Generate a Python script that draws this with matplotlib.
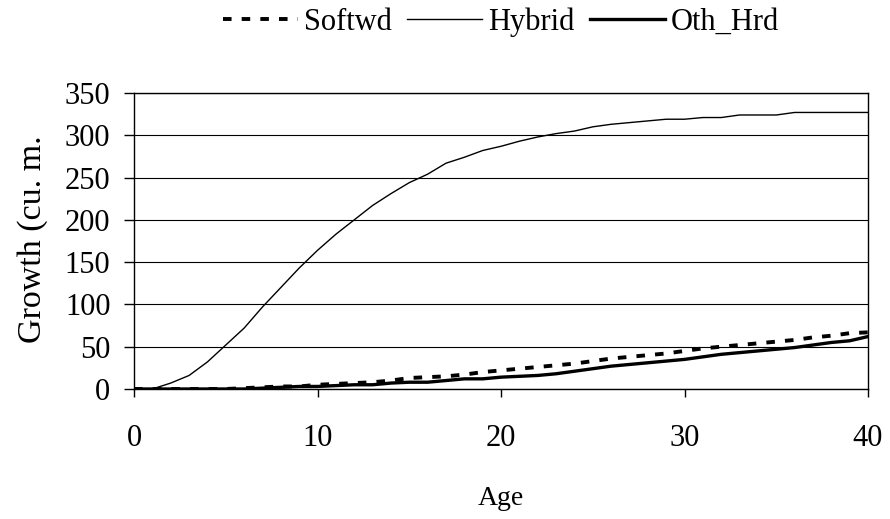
import matplotlib
matplotlib.use("Agg")
import matplotlib.pyplot as plt
import numpy as np

# ------------------------------------------------------- данные (с картинки)
age = list(range(0, 41))
softwd = [0, 0, 0, 0, 0, 0, 1, 2, 3, 3, 5, 6, 7, 8, 10, 13, 14, 15, 17, 20,
          22, 24, 26, 28, 30, 33, 36, 38, 40, 42, 45, 48, 50, 52, 54, 56, 58,
          61, 63, 66, 67]
hybrid = [0, 0, 7, 16, 32, 52, 72, 97, 120, 143, 164, 183, 200, 217, 231, 244,
          254, 267, 274, 282, 287, 293, 298, 302, 305, 310, 313, 315, 317, 319,
          319, 321, 321, 324, 324, 324, 327, 327, 327, 327, 327]
oth_hrd = [0, 0, 0, 0, 0, 0, 0, 1, 2, 3, 3, 4, 5, 5, 7, 8, 8, 10, 12, 12, 14,
           15, 16, 18, 21, 24, 27, 29, 31, 33, 35, 38, 41, 43, 45, 47, 49, 52,
           55, 57, 62]
x_ticks = [0, 10, 20, 30, 40]
y_ticks = list(range(0, 351, 50))

plt.rcParams["font.family"] = ["Liberation Serif", "DejaVu Serif"]

fig = plt.figure(figsize=(8.9, 5.19), dpi=100)
ax = fig.add_axes([0.1506, 0.2505, 0.8247, 0.5703])

ax.plot(age, softwd, color="black", lw=2.8, linestyle=(0, (2.2, 2.6)),
        label="Softwd")
ax.plot(age, hybrid, color="black", lw=1.0, label="Hybrid")
ax.plot(age, oth_hrd, color="black", lw=2.4, label="Oth_Hrd")

ax.set_xlim(0, 40)
ax.set_ylim(0, 350)
ax.set_xticks(x_ticks)
ax.set_yticks(y_ticks)
ax.yaxis.grid(True, color="black", lw=0.8)
ax.set_axisbelow(True)
for s in ax.spines.values():
    s.set_linewidth(1.0)
ax.tick_params(axis="y", direction="out", length=7, width=1, pad=10,
               labelsize=22)
ax.tick_params(axis="x", direction="out", length=6, width=1, pad=19,
               labelsize=22)
ax.set_xlabel("Age", fontsize=20, labelpad=24)
ax.set_ylabel("Growth (cu. m.", fontsize=24.5)
ax.yaxis.set_label_coords(-0.117, 0.505)

fig.legend(loc="center", bbox_to_anchor=(0.563, 0.957), ncol=3,
           frameon=False, fontsize=22, handlelength=2.45, handletextpad=0.2,
           columnspacing=0.5)

fig.savefig("out.png", dpi=100)
